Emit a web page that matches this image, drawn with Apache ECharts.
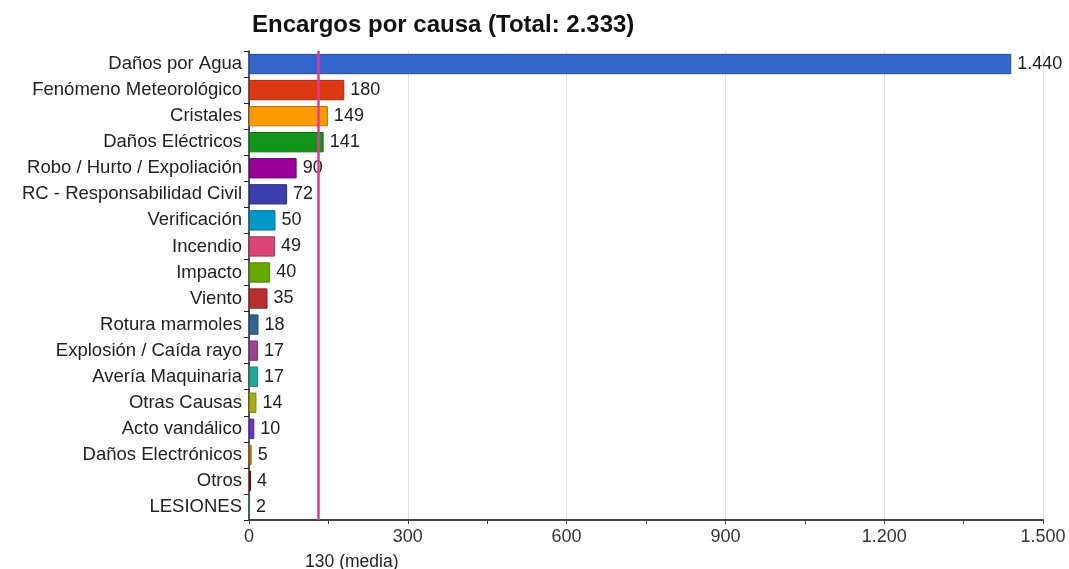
<!DOCTYPE html>
<html><head><meta charset="utf-8">
<script src="https://cdn.jsdelivr.net/npm/echarts@6/dist/echarts.min.js"></script>
<style>html,body{margin:0;padding:0;background:#fff}#c{width:1069px;height:569px}</style>
</head><body><div id="c"></div>
<script>
const categories = ["Daños por Agua","Fenómeno Meteorológico","Cristales","Daños Eléctricos","Robo / Hurto / Expoliación","RC - Responsabilidad Civil","Verificación","Incendio","Impacto","Viento","Rotura marmoles","Explosión / Caída rayo","Avería Maquinaria","Otras Causas","Acto vandálico","Daños Electrónicos","Otros","LESIONES"];
const values = [1440,180,149,141,90,72,50,49,40,35,18,17,17,14,10,5,4,2];
const colors = ["#3366cc","#dc3912","#ff9900","#109618","#990099","#3b3eac","#0099c6","#dd4477","#66aa00","#b82e2e","#316395","#994499","#22aa99","#aaaa11","#6633cc","#e67300","#8b0707","#329262"];
const meanValue = 130;
const xTicks = [0,300,600,900,1200,1500];

function shade(hex){const n=parseInt(hex.slice(1),16);let r=(n>>16)&255,g=(n>>8)&255,b=n&255;const f=0.75;return `rgb(${Math.round(r*f)},${Math.round(g*f)},${Math.round(b*f)})`;}
function fmt(v){return String(v).replace(/\B(?=(\d{3})+(?!\d))/g,'.');}

const FF = 'Liberation Sans, Arial, sans-serif';
const chart = echarts.init(document.getElementById('c'));
chart.setOption({
  animation:false,
  textStyle:{fontFamily:FF},
  title:{text:'Encargos por causa (Total: 2.333)',left:247,top:8,textStyle:{fontSize:24,fontWeight:'bold',color:'#111',fontFamily:FF}},
  grid:{left:249,right:26,top:51,bottom:49,containLabel:false},
  xAxis:{type:'value',min:xTicks[0],max:xTicks[xTicks.length-1],interval:300,
    axisLine:{show:true,lineStyle:{color:'#444',width:2}},
    axisTick:{show:true,length:4,lineStyle:{color:'#444'}},
    minorTick:{show:true,splitNumber:2,length:4,lineStyle:{color:'#444'}},
    splitLine:{show:true,lineStyle:{color:'#e0e0e0'}},
    axisLabel:{formatter:v=>fmt(v),color:'#333',fontSize:18,margin:8}},
  yAxis:{type:'category',data:categories,inverse:true,
    axisLine:{show:true,lineStyle:{color:'#222',width:1.5}},
    axisTick:{show:true,length:5,lineStyle:{color:'#222'}},
    axisLabel:{color:'#222',fontSize:18.5,margin:7}},
  series:[{type:'bar',barCategoryGap:'22%',
    data:values.map((v,i)=>({value:v,itemStyle:{color:colors[i],borderColor:shade(colors[i]),borderWidth:1}})),
    label:{show:true,position:'right',distance:6,color:'#222',fontSize:18,formatter:p=>fmt(p.value)},
    markLine:{silent:true,symbol:['none','none'],
      lineStyle:{color:'#e8359a',width:2.5,type:'solid'},
      label:{show:true,position:'end',distance:33,padding:[0,0,0,68],formatter:fmt(meanValue)+' (media)',color:'#222',fontSize:17.5},
      data:[{xAxis:meanValue}]}
  }]
});
</script></body></html>
